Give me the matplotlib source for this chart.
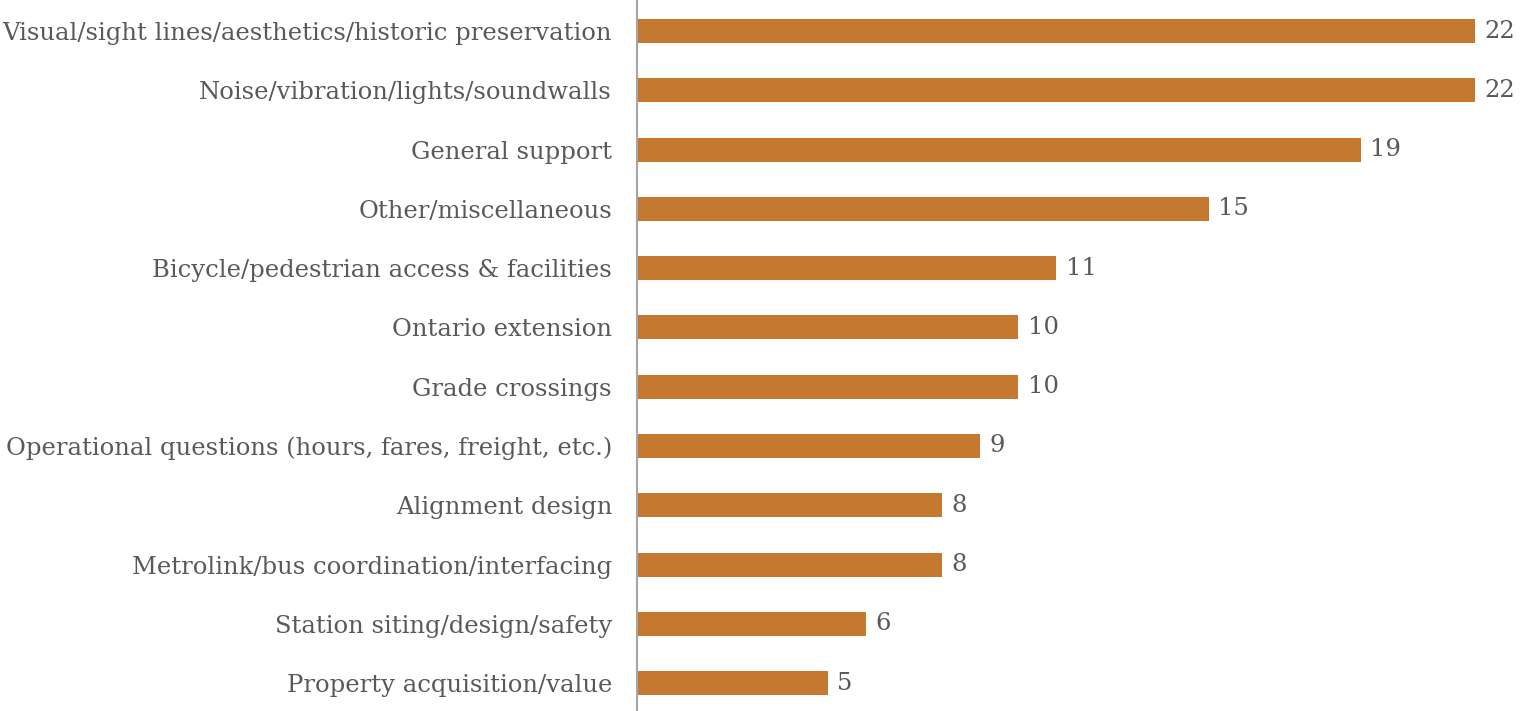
import matplotlib.pyplot as plt

categories = [
    "Visual/sight lines/aesthetics/historic preservation",
    "Noise/vibration/lights/soundwalls",
    "General support",
    "Other/miscellaneous",
    "Bicycle/pedestrian access & facilities",
    "Ontario extension",
    "Grade crossings",
    "Operational questions (hours, fares, freight, etc.)",
    "Alignment design",
    "Metrolink/bus coordination/interfacing",
    "Station siting/design/safety",
    "Property acquisition/value",
]
counts = [22, 22, 19, 15, 11, 10, 10, 9, 8, 8, 6, 5]

bar_color = "#C57830"
text_color = "#595959"
font = "DejaVu Serif"

fig = plt.figure(figsize=(15.21, 7.11), dpi=100)
ax = fig.add_axes([637 / 1521, 0, 1 - 637 / 1521, 1])

y = list(range(len(categories)))
ax.barh(y, counts, height=0.405, color=bar_color)
ax.set_ylim(11.47, -0.523)
ax.set_xlim(0, 884 / 38.1)

for yi, v in zip(y, counts):
    ax.text(v + 0.25, yi, str(v), va="center", ha="left",
            fontsize=17.5, color=text_color, family=font)

ax.set_yticks(y)
ax.set_yticklabels(categories, fontsize=17.5, color=text_color, family=font)
ax.tick_params(axis="y", length=0, pad=18)
ax.set_xticks([])

for s in ["top", "right", "bottom"]:
    ax.spines[s].set_visible(False)
ax.spines["left"].set_color("#A6A6A6")
ax.spines["left"].set_linewidth(1.5)

fig.savefig("out.png", dpi=100)
